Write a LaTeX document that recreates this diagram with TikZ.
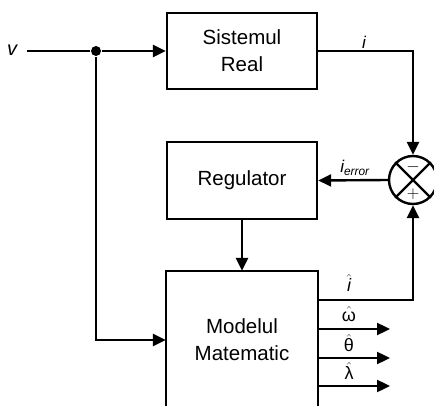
\documentclass[tikz,border=0pt]{standalone}
\usepackage{fontspec}
\setmainfont{Liberation Sans}
\usetikzlibrary{arrows.meta}
\begin{document}
\begin{tikzpicture}[x=1pt,y=-1pt,line width=2.4pt,
  >={Triangle[length=13pt,width=12pt]},
  block/.style={draw,align=center,minimum width=150pt,inner sep=0pt,
    font=\fontsize{20.5}{27}\selectfont},
  lbl/.style={inner sep=0pt,font=\fontsize{18}{18}\selectfont}]
\useasboundingbox (0,0) rectangle (434,406);
\node[block,minimum height=76pt] (sys) at (242,51) {Sistemul\\Real};
\node[block,minimum height=77pt] (reg) at (242,180.5) {Regulator};
\node[block,draw=none,minimum height=136pt] (mod) at (242,340) {Modelul\\Matematic};
\draw (mod.south west) -- (mod.north west) -- (mod.north east) -- (mod.south east);
\node[circle,draw,minimum size=48pt,inner sep=0pt] (sum) at (413,180) {};
\draw (sum.north west) -- (sum.south east);
\draw (sum.north east) -- (sum.south west);
\node[lbl,font=\fontsize{17}{17}\selectfont] (minus) at (413,167) {$-$};
\node[lbl,font=\fontsize{17}{17}\selectfont] (plus) at (413,194) {$+$};
\node[lbl,font=\fontsize{20}{20}\itshape] (vlab) at (12,50) {v};
\coordinate (vstart) at (27,51);
\node[circle,fill,minimum size=10pt,inner sep=0pt] (dot) at (96,51) {};
\draw (vstart) -- (dot);
\draw[->] (dot) -- (sys.west);
\draw[->] (dot) |- (mod.west);
\draw[->] (sys.east) -| (sum.north);
\node[lbl,font=\fontsize{17}{18}\itshape] (ilab) at (364,42) {i};
\draw[->] (sum.west) -- (reg.east);
\node[lbl,font=\fontsize{17}{18}\itshape] (ierr) at (355,168) {i\textsubscript{error}};
\draw[->] (reg.south) -- (mod.north);
\coordinate (o1) at (317,300);
\coordinate (o2) at (317,329);
\coordinate (o3) at (317,358);
\coordinate (o4) at (317,386);
\coordinate (e2) at (390,329);
\coordinate (e3) at (390,358);
\coordinate (e4) at (390,386);
\draw[->] (o1) -| (sum.south);
\draw[->] (o2) -- (e2);
\draw[->] (o3) -- (e3);
\draw[->] (o4) -- (e4);
\node[lbl] (ihat) at (349,283) {$\hat{\mbox{\itshape i}}$};
\node[lbl] (what) at (349,314) {$\hat{\mbox{ω}}$};
\node[lbl] (that) at (349,343) {$\hat{\mbox{θ}}$};
\node[lbl] (lhat) at (349,371) {$\hat{\mbox{λ}}$};
\end{tikzpicture}
\end{document}
